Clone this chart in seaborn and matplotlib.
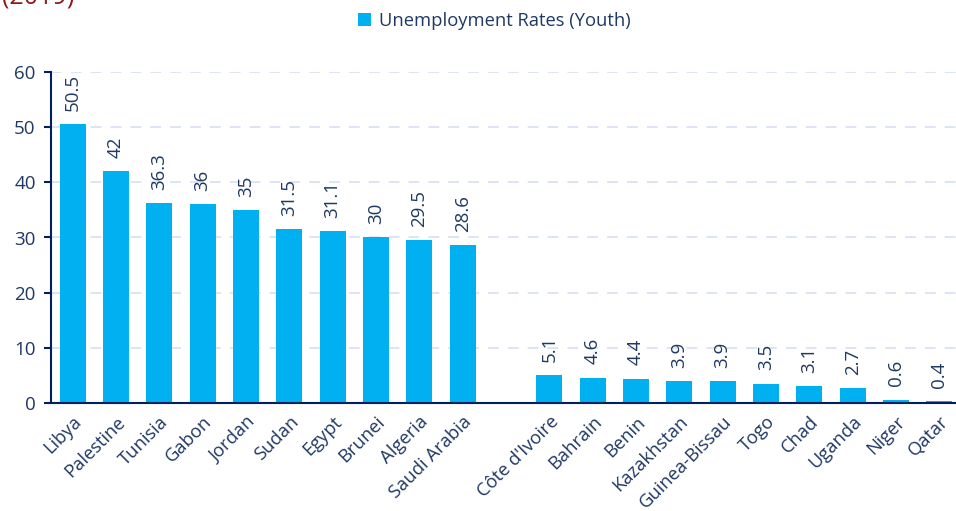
import numpy as np
import pandas as pd
import matplotlib
matplotlib.use("Agg")
import matplotlib.pyplot as plt
from matplotlib.patches import Patch
import seaborn as sns

countries = ["Libya", "Palestine", "Tunisia", "Gabon", "Jordan", "Sudan", "Egypt",
             "Brunei", "Algeria", "Saudi Arabia", " ",
             "Côte d'Ivoire", "Bahrain", "Benin", "Kazakhstan", "Guinea-Bissau",
             "Togo", "Chad", "Uganda", "Niger", "Qatar"]
youth_rates = [50.5, 42, 36.3, 36, 35, 31.5, 31.1, 30, 29.5, 28.6, np.nan,
               5.1, 4.6, 4.4, 3.9, 3.9, 3.5, 3.1, 2.7, 0.6, 0.4]
value_labels = ["50.5", "42", "36.3", "36", "35", "31.5", "31.1", "30", "29.5", "28.6", "",
                "5.1", "4.6", "4.4", "3.9", "3.9", "3.5", "3.1", "2.7", "0.6", "0.4"]
y_ticks = [0, 10, 20, 30, 40, 50, 60]

bar_color = "#00B0F0"
navy = "#002060"
text_color = "#203864"
grid_color = "#DAE3F3"
font = ["Open Sans", "DejaVu Sans"]

sns.set_theme(style="white")
plt.rcParams["font.family"] = font

df = pd.DataFrame({"country": countries, "rate": youth_rates})

fig = plt.figure(figsize=(9.56, 5.11), dpi=100)
ax = fig.add_axes([51 / 956, 1 - 403 / 511, 910 / 956, (403 - 72) / 511])

sns.barplot(data=df, x="country", y="rate", order=countries, color=bar_color,
            width=0.6, saturation=1, ax=ax, edgecolor="none")

ax.set_ylim(0, 60)
ax.set_xlim(-0.5, len(countries) - 0.5)
ax.set_yticks(y_ticks)
ax.set_yticklabels([str(t) for t in y_ticks], color=text_color, fontsize=13.5)
for t in y_ticks[1:]:
    ax.axhline(t, color=grid_color, lw=1.3, ls=(0, (6, 5)), zorder=0)

# category labels centred on bars, ticks at slot boundaries
ax.set_xticks(range(len(countries)))
ax.set_xticklabels(countries, rotation=45, ha="right", rotation_mode="anchor",
                   color=text_color, fontsize=13.2)
ax.tick_params(axis="x", which="major", length=0, pad=7)
ax.set_xticks(np.arange(-0.5, len(countries), 1.0), minor=True)
ax.tick_params(axis="x", which="minor", length=5, width=1.5, color=navy, direction="out")
ax.tick_params(axis="y", length=5, width=1.5, color=navy, direction="out", pad=6,
               left=True)
ax.set_xlabel("")
ax.set_ylabel("")

for side in ["top", "right"]:
    ax.spines[side].set_visible(False)
for side in ["left", "bottom"]:
    ax.spines[side].set_color(navy)
    ax.spines[side].set_linewidth(1.5)

for i, (v, lab) in enumerate(zip(youth_rates, value_labels)):
    if lab:
        ax.text(i, v + 2.4, lab, rotation=90, ha="center", va="bottom",
                color=text_color, fontsize=13.5)

handle = Patch(facecolor=bar_color, edgecolor="none")
fig.legend([handle], ["Unemployment Rates (Youth)"], loc="center",
           bbox_to_anchor=(494 / 956, 1 - 21 / 511), frameon=False, fontsize=13.2,
           handlelength=0.75, handleheight=0.75, handletextpad=0.4,
           labelcolor=text_color)

fig.text(0.002, 1 - 3 / 511, "(2019)", color="#8B1A1A", fontsize=18,
         ha="left", va="baseline")

fig.savefig("out.png", dpi=100)
